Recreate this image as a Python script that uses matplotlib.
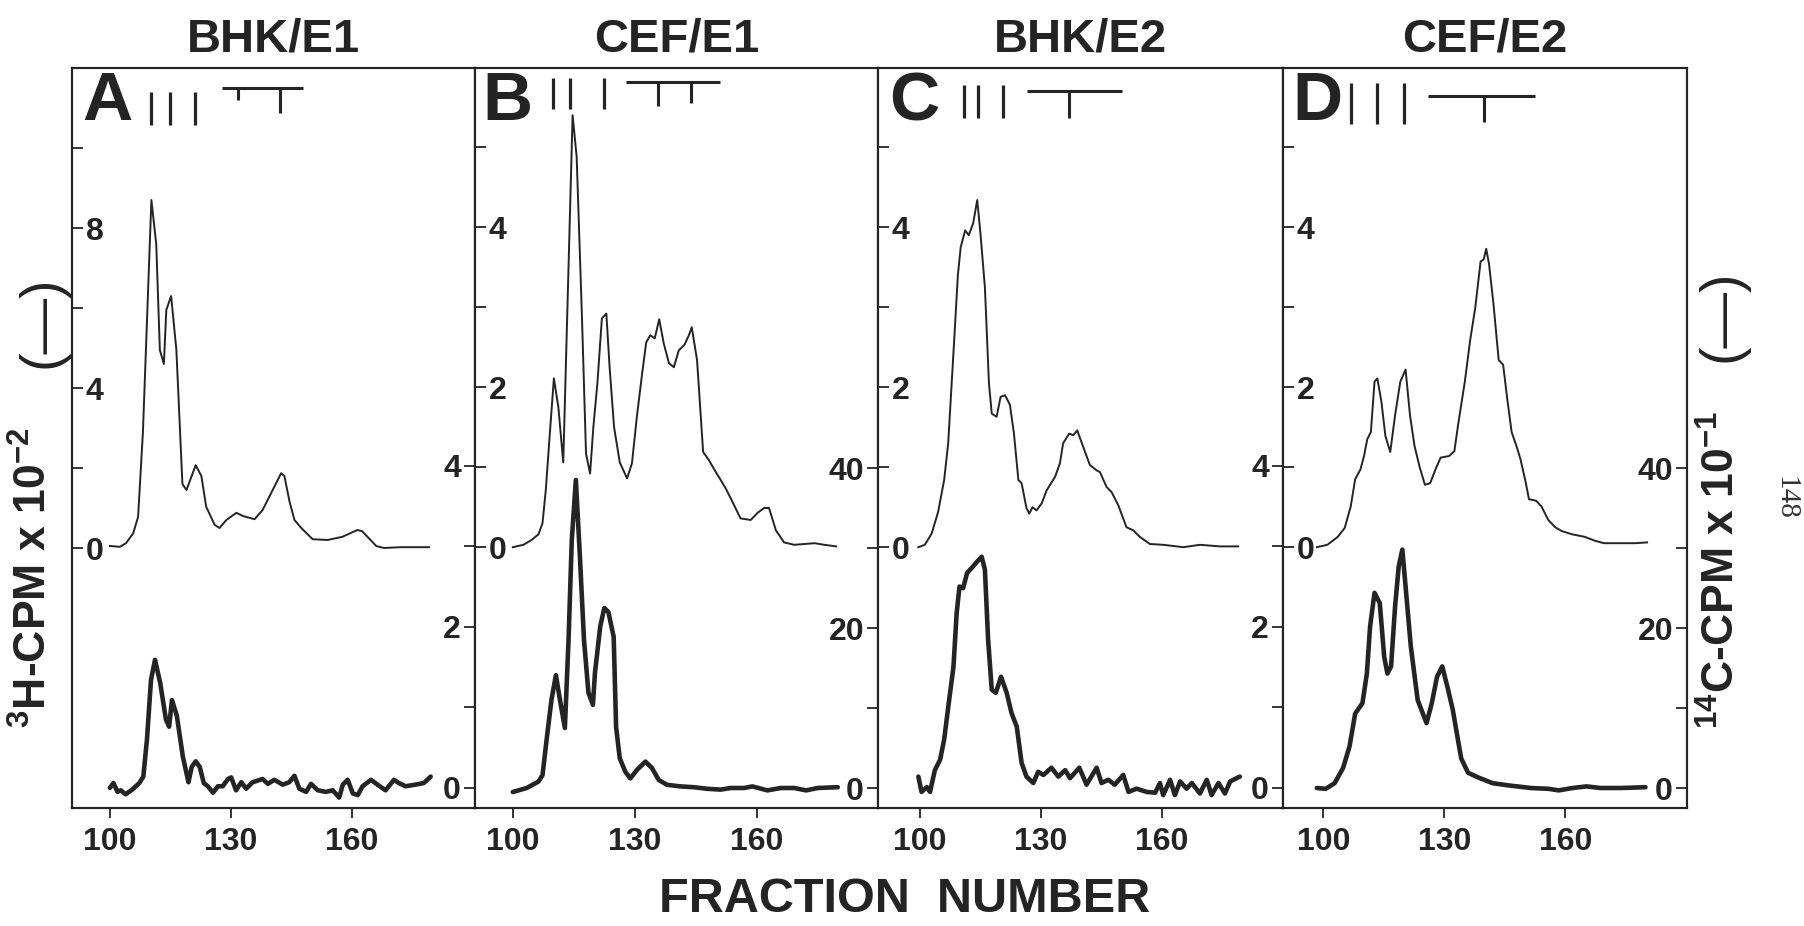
import numpy as np
import matplotlib.pyplot as plt

plt.rcParams['font.family'] = ['Liberation Sans', 'DejaVu Sans']
plt.rcParams['font.weight'] = 'bold'
plt.rcParams['mathtext.default'] = 'regular'

INK = '#242424'

# -----------------------------
# Datos (fraccion, cpm)
# -----------------------------
titles = ['BHK/E1', 'CEF/E1', 'BHK/E2', 'CEF/E2']
letters = ['A', 'B', 'C', 'D']

# Panel A
a_h_frac = [100.0, 102.5, 104.0, 105.8, 107.0, 108.2, 110.3, 111.5, 112.4, 113.4, 114.0, 115.2, 116.5,
            118.0, 119.0, 121.3, 122.7, 123.9, 126.0, 127.2, 128.9, 131.4, 133.0, 135.9, 137.9, 140.4,
            142.5, 143.3, 144.6, 145.8, 147.5, 150.3, 154.0, 157.7, 161.4, 162.6, 166.1, 168.0, 172.0, 179.2]
a_h_cpm = [0.05, 0.03, 0.12, 0.37, 0.78, 2.9, 8.7, 7.6, 4.95, 4.6, 5.95, 6.3, 4.95,
           1.6, 1.45, 2.07, 1.8, 1.03, 0.58, 0.5, 0.7, 0.88, 0.8, 0.72, 0.95, 1.45,
           1.87, 1.8, 1.15, 0.7, 0.5, 0.22, 0.2, 0.28, 0.45, 0.42, 0.05, 0.0, 0.02, 0.02]
a_c_frac = [100.0, 100.9, 101.9, 102.7, 103.9, 105.6, 107.3, 108.3, 109.2, 110.2, 111.2, 112.5, 113.9,
            114.7, 115.4, 116.6, 118.1, 119.5, 120.3, 121.3, 122.3, 123.3, 124.3, 125.6, 126.8, 128.0,
            129.3, 130.1, 131.3, 132.6, 133.8, 135.4, 137.9, 139.2, 140.8, 142.9, 144.5, 145.8, 147.0,
            148.7, 149.9, 151.6, 153.6, 155.3, 156.9, 157.8, 159.0, 160.3, 161.5, 162.7, 164.8, 166.4,
            168.4, 170.5, 171.7, 173.4, 175.8, 177.9, 179.6]
a_c_cpm = [0.0, 0.06, -0.05, -0.03, -0.08, -0.02, 0.06, 0.14, 0.6, 1.34, 1.59, 1.3, 0.85,
           0.76, 1.09, 0.9, 0.39, 0.07, 0.26, 0.33, 0.26, 0.06, 0.02, -0.06, 0.02, 0.02,
           0.11, 0.13, -0.03, 0.07, -0.01, 0.07, 0.11, 0.05, 0.1, 0.04, 0.07, 0.15, -0.01,
           -0.05, 0.05, -0.03, -0.05, -0.03, -0.12, 0.04, 0.1, -0.07, -0.09, 0.02, 0.1, 0.04,
           -0.03, 0.1, 0.06, 0.02, 0.04, 0.06, 0.14]

# Panel B
b_h_frac = [100.0, 102.6, 104.6, 106.3, 107.3, 108.1, 109.1, 110.1, 111.2, 112.4, 113.7, 114.7, 115.7,
            117.0, 118.0, 119.0, 119.8, 120.8, 121.9, 123.0, 123.8, 124.9, 126.3, 128.1, 129.3, 130.5,
            131.8, 132.8, 133.8, 134.9, 136.0, 137.1, 138.4, 139.6, 140.8, 142.2, 143.3, 144.0, 145.3,
            146.8, 148.2, 149.9, 151.0, 152.3, 153.5, 156.0, 158.5, 160.2, 161.8, 163.0, 164.7, 166.7,
            169.2, 174.2, 176.6, 179.5]
b_h_cpm = [0.0, 0.03, 0.09, 0.16, 0.3, 0.71, 1.42, 2.11, 1.75, 1.06, 3.5, 5.4, 4.88,
           2.88, 1.17, 0.92, 1.5, 2.05, 2.86, 2.92, 2.25, 1.5, 1.06, 0.86, 1.05, 1.63,
           2.17, 2.56, 2.65, 2.61, 2.85, 2.55, 2.3, 2.25, 2.46, 2.53, 2.65, 2.75, 2.34,
           1.19, 1.09, 0.94, 0.85, 0.74, 0.62, 0.36, 0.34, 0.43, 0.49, 0.49, 0.21, 0.06,
           0.03, 0.05, 0.03, 0.01]
b_c_frac = [100.0, 103.4, 106.3, 107.3, 108.3, 109.5, 110.6, 111.6, 112.8, 113.7, 114.5, 115.5, 116.5,
            117.5, 118.6, 119.7, 120.2, 121.5, 122.5, 123.5, 124.8, 125.4, 126.3, 127.7, 128.9, 130.5,
            132.6, 134.2, 135.9, 137.9, 141.2, 144.5, 147.8, 151.1, 153.6, 156.9, 158.9, 162.6, 165.9,
            169.2, 172.1, 175.0, 179.9]
b_c_cpm = [-0.5, 0.0, 0.8, 1.6, 6.0, 11.0, 14.1, 11.0, 7.5, 18.5, 31.0, 38.5, 28.9,
           18.5, 11.9, 10.4, 14.4, 20.2, 22.5, 22.0, 18.9, 7.6, 3.7, 2.0, 1.2, 2.25,
           3.3, 2.5, 1.0, 0.4, 0.2, 0.1, -0.1, -0.2, 0.0, 0.0, 0.2, -0.3, 0.0,
           0.0, -0.3, 0.0, 0.1]

# Panel C
c_h_frac = [99.6, 101.2, 102.9, 104.5, 106.0, 107.0, 108.5, 109.4, 110.1, 111.2, 112.1, 113.2, 114.2,
            115.0, 116.1, 117.1, 117.8, 119.0, 120.0, 121.1, 122.3, 123.3, 124.4, 125.2, 126.4, 127.1,
            127.9, 128.9, 130.2, 131.4, 133.5, 134.7, 135.5, 137.0, 138.0, 139.0, 140.5, 142.1, 143.8,
            144.6, 146.3, 147.5, 149.2, 151.2, 152.9, 154.5, 157.0, 160.3, 165.3, 169.4, 174.4, 178.9]
c_h_cpm = [0.0, 0.03, 0.17, 0.44, 0.84, 1.3, 2.6, 3.4, 3.75, 3.96, 3.9, 4.05, 4.34,
           3.92, 3.25, 2.05, 1.67, 1.63, 1.88, 1.9, 1.78, 1.42, 0.84, 0.8, 0.49, 0.42,
           0.5, 0.46, 0.55, 0.71, 0.88, 1.05, 1.3, 1.42, 1.4, 1.46, 1.25, 1.03, 0.96,
           0.94, 0.75, 0.69, 0.52, 0.25, 0.21, 0.13, 0.04, 0.03, 0.0, 0.03, 0.01, 0.01]
c_c_frac = [99.6, 100.4, 101.7, 102.5, 103.7, 105.0, 106.0, 107.0, 108.3, 109.1, 109.8, 110.7, 111.7,
            112.8, 114.0, 115.3, 116.1, 116.9, 117.8, 118.8, 120.1, 121.5, 122.7, 124.0, 125.2, 126.4,
            128.1, 129.3, 130.6, 132.6, 134.3, 136.0, 137.2, 139.5, 141.3, 143.8, 145.0, 146.7, 148.3,
            150.4, 151.7, 153.7, 156.2, 158.3, 159.5, 160.3, 162.0, 163.2, 164.5, 166.1, 167.4, 169.4,
            171.1, 172.3, 174.0, 175.6, 176.9, 179.3]
c_c_cpm = [0.14, -0.05, 0.01, -0.05, 0.22, 0.35, 0.6, 1.0, 1.5, 2.17, 2.5, 2.48, 2.67,
           2.73, 2.8, 2.87, 2.71, 1.84, 1.22, 1.18, 1.38, 1.18, 0.93, 0.76, 0.31, 0.14,
           0.06, 0.2, 0.16, 0.25, 0.14, 0.22, 0.12, 0.25, 0.04, 0.25, 0.06, 0.1, 0.04,
           0.16, -0.05, -0.01, -0.05, -0.06, 0.06, -0.09, 0.1, -0.09, 0.08, -0.01, 0.06, -0.07,
           0.1, -0.09, 0.06, -0.07, 0.08, 0.14]

# Panel D
d_h_frac = [98.4, 101.0, 103.6, 105.3, 106.8, 107.9, 109.2, 110.1, 110.9, 111.8, 112.7, 113.4, 114.4,
            115.4, 116.6, 117.8, 119.1, 120.4, 121.5, 122.6, 123.9, 125.2, 126.5, 127.8, 129.1, 131.2,
            132.5, 133.4, 135.1, 136.4, 137.7, 139.0, 139.8, 140.4, 141.1, 142.2, 143.5, 144.6, 145.6,
            146.7, 148.0, 148.9, 150.2, 151.0, 152.8, 154.1, 155.8, 157.5, 159.2, 161.8, 164.8, 167.4,
            169.6, 173.0, 177.3, 180.3]
d_h_cpm = [0.0, 0.03, 0.13, 0.24, 0.51, 0.85, 0.97, 1.14, 1.35, 1.44, 2.07, 2.11, 1.82,
           1.39, 1.19, 1.65, 2.07, 2.22, 1.65, 1.27, 1.0, 0.78, 0.8, 0.97, 1.12, 1.14,
           1.2, 1.52, 2.07, 2.58, 3.0, 3.57, 3.6, 3.73, 3.54, 3.04, 2.34, 2.28, 1.86,
           1.44, 1.25, 1.1, 0.81, 0.6, 0.58, 0.51, 0.34, 0.25, 0.2, 0.16, 0.13, 0.08,
           0.05, 0.05, 0.05, 0.06]
d_c_frac = [98.4, 100.6, 102.8, 104.9, 106.5, 107.9, 109.7, 110.8, 111.6, 112.7, 114.0, 115.1, 115.9,
            116.8, 117.8, 118.7, 119.6, 120.4, 121.7, 123.4, 125.6, 126.9, 128.2, 129.5, 130.8, 132.1,
            133.4, 134.2, 135.9, 138.5, 142.0, 146.3, 151.5, 155.8, 158.4, 161.8, 165.3, 168.7, 173.9,
            179.9]
d_c_cpm = [0.0, -0.1, 0.6, 2.5, 5.2, 9.3, 10.6, 14.3, 20.2, 24.4, 23.1, 16.4, 14.3,
           15.2, 22.7, 27.7, 29.8, 25.2, 17.7, 11.0, 8.1, 10.6, 13.9, 15.2, 12.6, 9.8,
           6.0, 3.7, 1.9, 1.3, 0.6, 0.3, 0.0, -0.1, -0.3, 0.0, 0.2, 0.0, 0.0,
           0.1]

# Marcadores (posiciones en fracciones)
a_bars, a_span, a_tees = [110.1, 114.9, 121.0], [127.7, 148.0], [131.9, 142.3]
b_bars, b_span, b_tees = [109.9, 114.1, 122.5], [127.9, 150.9], [135.8, 143.7]
c_bars, c_span, c_tees = [110.9, 114.4, 120.6], [126.6, 150.1], [137.0]
d_bars, d_span, d_tees = [106.8, 113.3, 120.0], [125.9, 152.5], [139.8]

h_frac = [a_h_frac, b_h_frac, c_h_frac, d_h_frac]
h_cpm = [a_h_cpm, b_h_cpm, c_h_cpm, d_h_cpm]
c_frac = [a_c_frac, b_c_frac, c_c_frac, d_c_frac]
c_cpm = [a_c_cpm, b_c_cpm, c_c_cpm, d_c_cpm]
bars = [a_bars, b_bars, c_bars, d_bars]
spans = [a_span, b_span, c_span, d_span]
tees = [a_tees, b_tees, c_tees, d_tees]

# -----------------------------
# Ejes / estilo
# -----------------------------
W, H = 1804, 926
boxes = [(72, 475), (475, 878), (878, 1283), (1283, 1687)]   # px izquierda/derecha
top_px, bot_px = 68, 808
xlims = [(90.6, 190.6), (90.7, 189.8), (89.6, 190.0), (90.0, 190.2)]
ylims_h = [(-6.5, 12.0), (-3.26, 5.99), (-3.26, 5.99), (-3.26, 5.99)]
ylims_c = [(-0.25, 8.94), (-2.5, 90.0), (-0.25, 8.94), (-2.5, 90.0)]
ticks_h = [([0, 2, 4, 6, 8, 10], ['0', '', '4', '', '8', '']),
           ([0, 1, 2, 3, 4, 5], ['0', '', '2', '', '4', ''])]
ticks_c = [([0, 1, 2, 3, 4], ['0', '', '2', '', '4']),
           ([0, 10, 20, 30, 40], ['0', '', '20', '', '40'])]
# (bar top, bar bottom, span y, tee bottoms) en fraccion del eje
marks_y = [(0.968, 0.923, 0.973, [0.957, 0.939]),
           (0.986, 0.944, 0.981, [0.949, 0.953]),
           (0.977, 0.932, 0.969, [0.932]),
           (0.980, 0.925, 0.962, [0.927])]
letter_dx = [0.025, 0.018, 0.028, 0.022]

fig = plt.figure(figsize=(W / 100, H / 100), dpi=100)

for i in range(4):
    x0, x1 = boxes[i]
    ax = fig.add_axes([x0 / W, 1 - bot_px / H, (x1 - x0) / W, (bot_px - top_px) / H])
    ax2 = ax.twinx()

    ax.plot(h_frac[i], h_cpm[i], color=INK, lw=1.4, solid_joinstyle='round')
    ax2.plot(c_frac[i], c_cpm[i], color=INK, lw=3.3, solid_joinstyle='round', solid_capstyle='round')

    ax.set_xlim(*xlims[i])
    ax.set_ylim(*ylims_h[i])
    ax2.set_ylim(*ylims_c[i])

    ax.set_xticks([100, 130, 160])
    ax.tick_params(axis='x', direction='out', length=7, width=1.3, pad=7,
                   labelsize=23, colors=INK)

    tv, tl = ticks_h[0 if i == 0 else 1]
    ax.set_yticks(tv)
    ax.set_yticklabels(tl)
    ax.tick_params(axis='y', direction='in', length=8, width=1.3, pad=-10,
                   labelsize=23, colors=INK)
    for t in ax.get_yticklabels():
        t.set_horizontalalignment('left')

    tv, tl = ticks_c[i % 2]
    ax2.set_yticks(tv)
    ax2.set_yticklabels(tl)
    ax2.tick_params(axis='y', direction='in', length=8, width=1.3, pad=-10,
                    labelsize=23, colors=INK)
    for t in ax2.get_yticklabels():
        t.set_horizontalalignment('right')

    for a in (ax, ax2):
        for s in a.spines.values():
            s.set_linewidth(1.5)
            s.set_color(INK)

    # titulo y letra
    ax.text(0.5, 1 + 29 / 740, titles[i], transform=ax.transAxes, ha='center', va='center',
            fontsize=34, color=INK)
    ax.text(letter_dx[i], 0.997, letters[i], transform=ax.transAxes, ha='left', va='top',
            fontsize=50, color=INK)

    # marcadores
    tr = ax.get_xaxis_transform()
    yt, yb, ys, ytee = marks_y[i]
    ax.vlines(bars[i], yb, yt, transform=tr, color=INK, lw=2.3)
    ax.hlines(ys, spans[i][0], spans[i][1], transform=tr, color=INK, lw=2.2)
    ax.vlines(tees[i], ytee, ys, transform=tr, color=INK, lw=2.2)

# -----------------------------
# Etiquetas de la figura
# -----------------------------
fig.text(34 / W, 1 - 578 / H, r'$^{3}$H-CPM x 10$^{-2}$', rotation=90, ha='center', va='center',
         fontsize=32, color=INK)
fig.text(42 / W, 1 - 322 / H, '(—)', rotation=90, ha='center', va='center', fontsize=40,
         weight='normal', color=INK)
fig.text(1722 / W, 1 - 570 / H, r'$^{14}$C-CPM x 10$^{-1}$', rotation=90, ha='center', va='center',
         fontsize=32, color=INK)
fig.text(1723 / W, 1 - 316 / H, '(—)', rotation=90, ha='center', va='center', fontsize=40,
         weight='normal', color=INK)
fig.text(905 / W, 1 - 900 / H, 'FRACTION  NUMBER', ha='center', va='center', fontsize=35, color=INK)
fig.text(1785 / W, 1 - 498 / H, '148', rotation=-90, ha='center', va='center', fontsize=21,
         family='Liberation Serif', weight='normal', color='#333333')

fig.savefig('out.png', dpi=100)
